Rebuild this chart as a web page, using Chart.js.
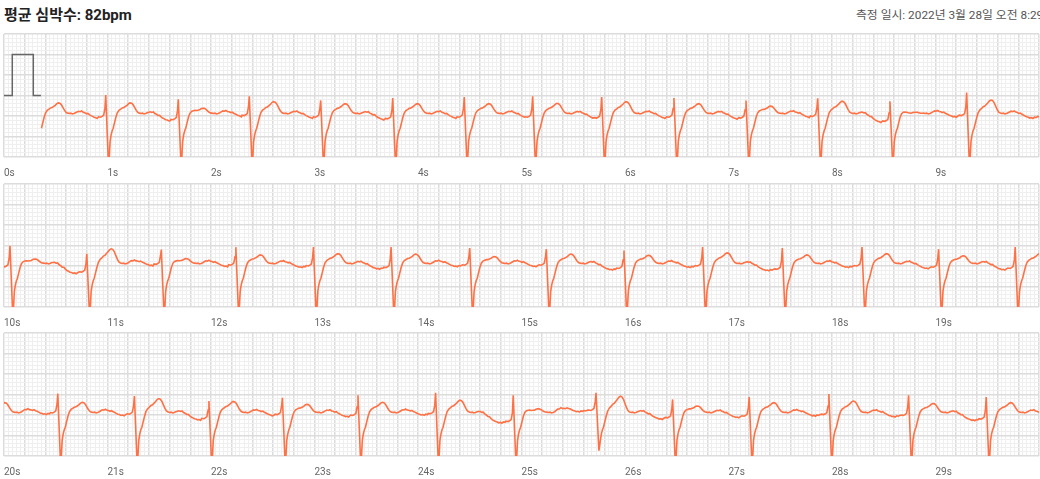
<!DOCTYPE html>
<html lang="ko">
<head>
<meta charset="utf-8">
<title>심전도</title>
<script src="https://cdn.jsdelivr.net/npm/chart.js@4.4.1/dist/chart.umd.min.js"></script>
<style>
  html, body { margin: 0; padding: 0; background: #fff; }
  body {
    width: 1040px; height: 479px; position: relative; overflow: hidden;
    font-family: Roboto, "Noto Sans CJK KR", sans-serif;
  }
  .title { position: absolute; left: 4px; top: 3px; font-size: 15px; font-weight: 700; color: #222; }
  .measured { position: absolute; left: 856px; top: 5px; font-size: 11.8px; color: #555; white-space: nowrap; }
  canvas.strip { position: absolute; left: 0; display: block; }
</style>
</head>
<body>
<div class="title">평균 심박수: 82bpm</div>
<div class="measured">측정 일시: 2022년 3월 28일 오전 8:29</div>
<canvas id="strip0" class="strip" width="1040" height="148" style="top:32px"></canvas>
<canvas id="strip1" class="strip" width="1040" height="148" style="top:182px"></canvas>
<canvas id="strip2" class="strip" width="1040" height="148" style="top:331px"></canvas>
<script>
const stripStarts = [0, 10, 20];
const stripSeconds = 10;

// 1 mV calibration pulse at the start of the first strip
const calTimes = [0, 0.08, 0.08, 0.283, 0.283, 0.357];
const calValues = [0, 0, 1, 1, 0, 0];
const traceStart = 0.357;

const rTimes = [
  0.29, 0.983, 1.684, 2.370, 3.060, 3.756, 4.447, 5.108, 5.775, 6.473, 7.169, 7.862, 8.560, 9.301,
  10.058, 10.80, 11.52, 12.24, 12.99, 13.74, 14.50, 15.24, 15.99, 16.75, 17.52, 18.29, 19.03, 19.77,
  20.52, 21.26, 21.98, 22.69, 23.42, 24.17, 24.92, 25.72, 26.46, 27.20, 27.97, 28.74, 29.49
];
// R peak height (mV)
const rPeaks = [
  0.0, 0.01, -0.09, -0.02, -0.12, -0.06, -0.04, -0.02, -0.04, -0.06, -0.12, -0.07, -0.14, 0.07,
  -0.01, -0.2, -0.1, -0.04, -0.04, -0.04, -0.06, -0.09, -0.12, -0.04, -0.06, -0.04, -0.09, -0.04,
  0.02, -0.04, -0.16, -0.08, -0.02, 0.04, -0.02, 0.04, -0.12, -0.06, 0.01, -0.02, -0.06
];
// S trough (mV), most run off the bottom of the strip
const sTroughs = [
  -1.8, -1.8, -1.8, -1.8, -1.8, -1.8, -1.8, -1.8, -1.8, -1.8, -1.8, -1.8, -1.8, -1.8,
  -1.8, -1.8, -1.8, -1.8, -1.8, -1.8, -1.8, -1.8, -1.8, -1.8, -1.8, -1.8, -1.8, -1.8,
  -1.8, -1.8, -1.8, -1.8, -1.8, -1.8, -1.8, -1.37, -1.8, -1.8, -1.8, -1.8, -1.8
];
// T wave top (mV)
const tPeaks = [
  -0.18, -0.18, -0.31, -0.15, -0.2, -0.2, -0.2, -0.19, -0.15, -0.2, -0.26, -0.14, -0.41, -0.11,
  -0.33, -0.08, -0.32, -0.23, -0.2, -0.21, -0.27, -0.21, -0.24, -0.18, -0.23, -0.2, -0.25, -0.2,
  -0.19, -0.1, -0.17, -0.24, -0.19, -0.14, -0.35, -0.04, -0.28, -0.2, -0.16, -0.22, -0.2
];
// level just before each R (mV)
const preLevels = [
  -0.5, -0.52, -0.58, -0.48, -0.52, -0.56, -0.52, -0.52, -0.54, -0.52, -0.54, -0.5, -0.62, -0.48,
  -0.51, -0.64, -0.45, -0.47, -0.49, -0.53, -0.47, -0.47, -0.55, -0.49, -0.57, -0.49, -0.52, -0.55,
  -0.44, -0.47, -0.58, -0.48, -0.5, -0.46, -0.65, -0.38, -0.56, -0.52, -0.48, -0.5, -0.59
];

// one beat as read from the first strip: time after R (s) and mV
const preDt = [-0.07, -0.05, -0.035, -0.02, -0.008];
const preOffset = [0, -0.01, 0.01, 0.04, 0.2];
const sDt = 0.028;
const bodyDt = [
  0.042, 0.052, 0.062, 0.072, 0.085, 0.098, 0.112, 0.128, 0.145, 0.16, 0.175, 0.19, 0.205, 0.22,
  0.235, 0.25, 0.265, 0.28, 0.295, 0.31, 0.325, 0.34, 0.355, 0.37, 0.385, 0.40, 0.415, 0.43,
  0.445, 0.46, 0.475, 0.49, 0.505, 0.52, 0.535, 0.55, 0.565, 0.58, 0.595, 0.61, 0.625, 0.64,
  0.655, 0.67, 0.685, 0.70, 0.72, 0.74, 0.76
];
const bodyMv = [
  -1.12, -0.96, -0.86, -0.80, -0.66, -0.53, -0.42, -0.36, -0.33, -0.30, -0.29, -0.26, -0.23, -0.19,
  -0.17, -0.18, -0.22, -0.29, -0.36, -0.41, -0.43, -0.44, -0.43, -0.45, -0.44, -0.42, -0.40, -0.38,
  -0.39, -0.37, -0.40, -0.41, -0.43, -0.42, -0.45, -0.47, -0.49, -0.51, -0.52, -0.54, -0.53, -0.55,
  -0.52, -0.53, -0.51, -0.52, -0.50, -0.51, -0.50
];
// how much of the T height / next baseline each point follows
const bodyT = [
  0, 0, 0, 0, 0, 0, 0.1, 0.2, 0.3, 0.45, 0.55, 0.7, 0.85, 0.95,
  1, 0.95, 0.8, 0.55, 0.3, 0.1, 0, 0, 0, 0, 0, 0, 0, 0,
  0, 0, 0, 0, 0, 0, 0, 0, 0, 0, 0, 0, 0, 0,
  0, 0, 0, 0, 0, 0, 0
];
const bodyNext = [
  0, 0, 0, 0, 0, 0, 0, 0, 0, 0, 0, 0, 0, 0,
  0, 0, 0, 0, 0, 0, 0, 0, 0, 0, 0, 0, 0.1, 0.2,
  0.3, 0.4, 0.5, 0.6, 0.7, 0.8, 0.9, 1, 1, 1, 1, 1, 1, 1,
  1, 1, 1, 1, 1, 1, 1
];
const shapeTPeak = -0.17;
const shapeBase = -0.5;

const ecgColor = '#ff7144';
const majorGrid = '#dcdcdc';
const minorGrid = '#efefef';

// build the trace
const trace = [];
rTimes.forEach((r, i) => {
  const next = rTimes[i + 1];
  const from = i === 0 ? traceStart : r - 0.075;
  const to = next === undefined ? 31 : next - 0.075;
  const tShift = tPeaks[i] - shapeTPeak;
  const nShift = next === undefined ? 0 : preLevels[i + 1] - shapeBase;
  const beat = [];
  preDt.forEach((dt, k) => beat.push([r + dt, preLevels[i] + preOffset[k]]));
  beat.push([r, rPeaks[i]]);
  beat.push([r + sDt, sTroughs[i]]);
  bodyDt.forEach((dt, k) => {
    beat.push([r + dt, bodyMv[k] + bodyT[k] * tShift + bodyNext[k] * nShift]);
  });
  beat.forEach(([t, v]) => {
    if (t >= from && t < to) trace.push({ x: t, y: v });
  });
});

function stripData(start) {
  const end = start + stripSeconds;
  return trace.filter(p => p.x >= start - 0.1 && p.x <= end + 0.1);
}

function makeStrip(canvasId, start, datasets) {
  const end = start + stripSeconds;
  new Chart(document.getElementById(canvasId), {
    type: 'line',
    data: { datasets },
    options: {
      responsive: false,
      animation: false,
      events: [],
      parsing: false,
      layout: { padding: { top: 2, left: 4, right: 1, bottom: 0 } },
      plugins: {
        legend: { display: false },
        tooltip: { enabled: false }
      },
      elements: {
        point: { radius: 0 },
        line: { tension: 0 }
      },
      scales: {
        x: {
          type: 'linear',
          min: start,
          max: end,
          border: { display: false },
          grid: {
            drawTicks: true,
            tickLength: 9,
            tickColor: 'rgba(0,0,0,0)',
            color: ctx => ctx.index % 5 === 0 ? majorGrid : minorGrid,
            lineWidth: ctx => ctx.index % 5 === 0 ? 1.5 : 1
          },
          ticks: {
            stepSize: 0.04,
            autoSkip: false,
            maxRotation: 0,
            minRotation: 0,
            align: 'start',
            padding: 1,
            color: '#666',
            font: { size: 10, family: 'Roboto' },
            callback: v => {
              const s = Math.round(v);
              return Math.abs(v - s) < 1e-6 && s < end ? s + 's' : '';
            }
          }
        },
        y: {
          min: -1.5,
          max: 1.5,
          border: { display: false },
          grid: {
            drawTicks: false,
            color: ctx => ctx.index % 5 === 0 ? majorGrid : minorGrid,
            lineWidth: ctx => ctx.index % 5 === 0 ? 1.5 : 1
          },
          ticks: { display: false, stepSize: 0.1 }
        }
      }
    }
  });
}

stripStarts.forEach((start, k) => {
  const datasets = [{
    data: stripData(start),
    borderColor: ecgColor,
    borderWidth: 1.6,
    fill: false
  }];
  if (k === 0) {
    datasets.push({
      data: calTimes.map((t, i) => ({ x: t, y: calValues[i] })),
      borderColor: '#666',
      borderWidth: 1.5,
      fill: false
    });
  }
  makeStrip('strip' + k, start, datasets);
});
</script>
</body>
</html>
